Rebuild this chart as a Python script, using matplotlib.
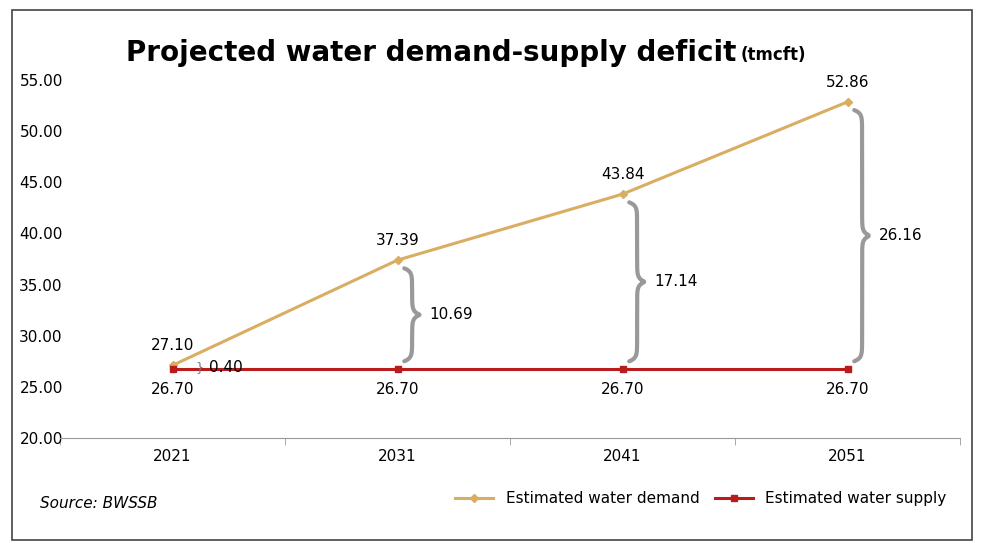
import matplotlib.pyplot as plt
import numpy as np
from matplotlib.patches import Rectangle

years = ['2021', '2031', '2041', '2051']
demand = [27.10, 37.39, 43.84, 52.86]
supply = [26.70, 26.70, 26.70, 26.70]
gaps = [0.40, 10.69, 17.14, 26.16]

fig = plt.figure(figsize=(9.88, 5.53), dpi=100)
ax = fig.add_axes([60/988, 1-438/553, 900/988, (438-80)/553])
x = np.arange(len(years))

ax.plot(x, demand, color='#d9ad62', lw=2.2, marker='D', ms=4, label='Estimated water demand')
ax.plot(x, supply, color='#b81c1c', lw=2.2, marker='s', ms=5, label='Estimated water supply')

for i in x:
    ax.text(i, demand[i] + 1.2, f'{demand[i]:.2f}', ha='center', va='bottom', fontsize=11)
    ax.text(i, supply[i] - 1.2, f'{supply[i]:.2f}', ha='center', va='top', fontsize=11)


def brace(xc, y0, y1, w):
    # curly brace opening to the left, tip pointing right
    t = np.linspace(0, 1, 200)
    ym = (y0 + y1) / 2
    h = y1 - y0
    r = min(0.6, h * 0.1)
    ys = y0 + t * h
    xs = np.zeros_like(t)
    d_end = np.minimum(ys - y0, y1 - ys)
    d_mid = np.abs(ys - ym)
    xs += w * 0.5 * (1 - np.exp(-d_end / (r * 0.5)))
    xs += w * 0.5 * np.exp(-d_mid / (r * 0.5))
    ax.plot(xc + xs, ys, color='#999999', lw=3, solid_capstyle='round')
    return xc + w


for i in x:
    y0 = supply[i] + 0.8
    y1 = demand[i] - 0.8
    if gaps[i] < 1:
        ax.text(i + 0.12, (supply[i] + demand[i]) / 2, '}', fontsize=9, color='#777777',
                ha='center', va='center')
        ax.text(i + 0.16, 26.9, f'{gaps[i]:.2f}', fontsize=11, va='center')
    else:
        xe = brace(i + 0.03, y0, y1, 0.07)
        ax.text(xe + 0.04, (y0 + y1) / 2, f'{gaps[i]:.2f}', fontsize=11, va='center')

ax.set_xlim(-0.5, 3.5)
ax.set_ylim(20, 55)
ax.set_yticks(np.arange(20, 56, 5))
ax.set_yticklabels([f'{v:.2f}' for v in np.arange(20, 56, 5)], fontsize=11)
ax.set_xticks(x)
ax.set_xticklabels(years, fontsize=11)
ax.tick_params(axis='y', length=0, pad=-2)
for s in ['top', 'right', 'left']:
    ax.spines[s].set_visible(False)
ax.spines['bottom'].set_color('#999999')
ax.set_xticks([-0.5, 0.5, 1.5, 2.5, 3.5], minor=True)
ax.tick_params(axis='x', which='minor', length=5, color='#999999')
ax.tick_params(axis='x', which='major', length=0, pad=8)

fig.text(0.745, 0.905, 'Projected water demand-supply deficit', fontsize=20, fontweight='bold',
         ha='right', va='center')
fig.text(0.75, 0.9, '(tmcft)', fontsize=12, fontweight='bold', ha='left', va='center')
fig.text(40/988, 1-503/553, 'Source: BWSSB', fontsize=11, style='italic', va='center')
ax.legend(loc='lower right', bbox_to_anchor=(960/988, 1-520/553), bbox_transform=fig.transFigure,
          ncol=2, frameon=False, fontsize=11, handlelength=2.5, columnspacing=1.0)

fig.patches.append(Rectangle((12/988, 1-540/553), 960/988, 530/553, transform=fig.transFigure,
                             fill=False, edgecolor='#444444', lw=1.2))
fig.savefig('out.png', dpi=100)
